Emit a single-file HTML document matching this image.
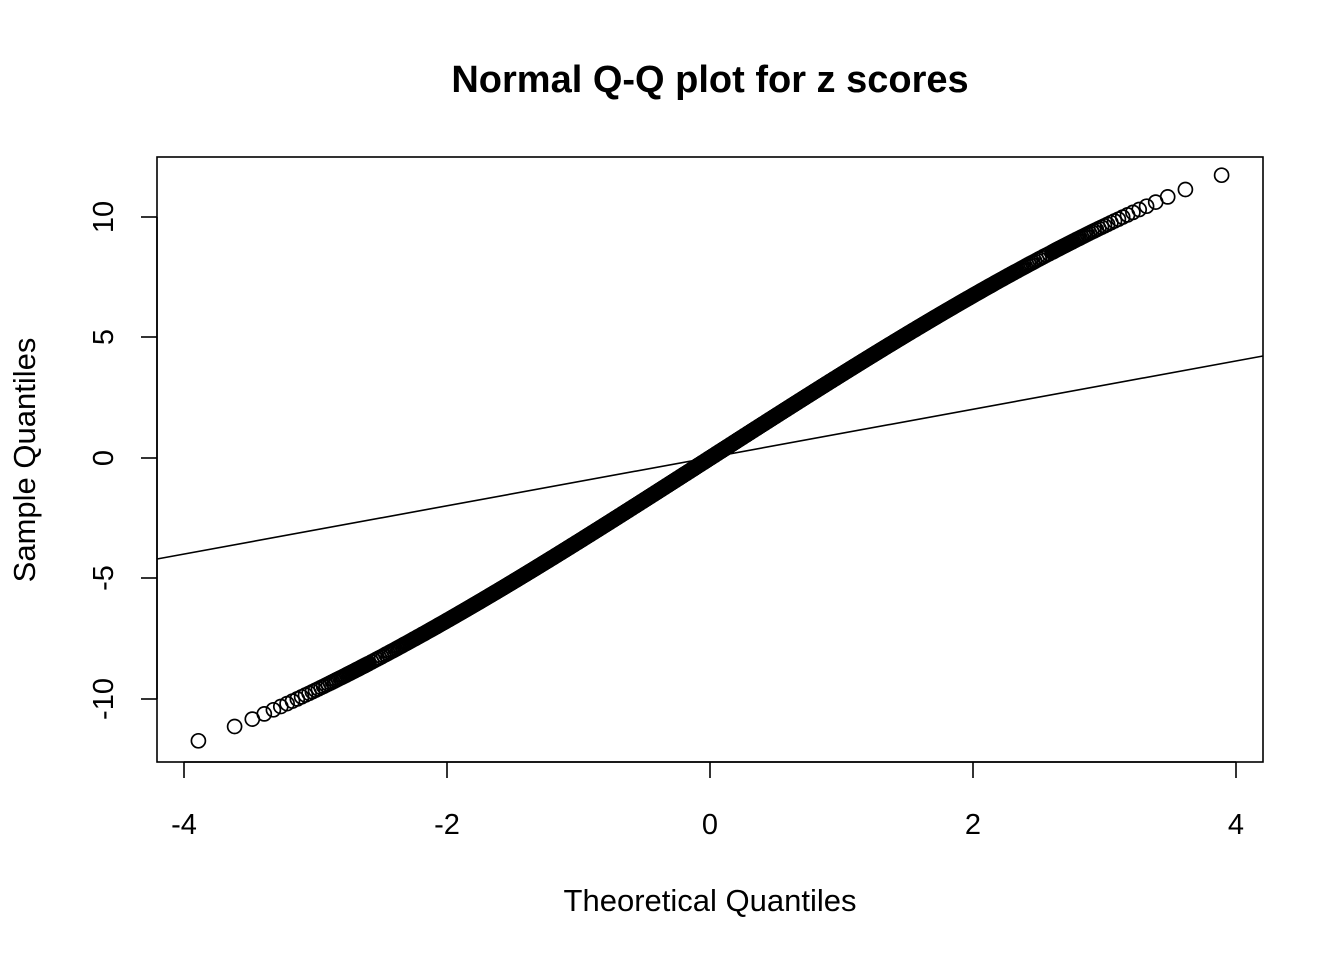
<!DOCTYPE html>
<html><head><meta charset="utf-8"><style>
body{margin:0;background:#fff}
svg text{font-family:"Liberation Sans",Arial,sans-serif;fill:#000}
</style></head><body>
<svg id="s" width="1344" height="960" xmlns="http://www.w3.org/2000/svg">
<rect width="1344" height="960" fill="#fff"/>
<text x="710" y="92" font-size="38" font-weight="bold" text-anchor="middle">Normal Q-Q plot for z scores</text>
<g id="pts" fill="none" stroke="#000" stroke-width="1.7"></g>
<line x1="157" y1="559" x2="1263" y2="356" stroke="#000" stroke-width="1.6"/>
<rect x="157" y="157" width="1106" height="605" fill="none" stroke="#000" stroke-width="1.6"/>
<g stroke="#000" stroke-width="1.6">
<line x1="184" y1="762" x2="1236" y2="762"/>
<line x1="184" y1="762" x2="184" y2="778"/><line x1="447" y1="762" x2="447" y2="778"/>
<line x1="710" y1="762" x2="710" y2="778"/><line x1="973" y1="762" x2="973" y2="778"/>
<line x1="1236" y1="762" x2="1236" y2="778"/>
<line x1="157" y1="217" x2="157" y2="699"/>
<line x1="141" y1="217" x2="157" y2="217"/><line x1="141" y1="337" x2="157" y2="337"/>
<line x1="141" y1="458" x2="157" y2="458"/><line x1="141" y1="578" x2="157" y2="578"/>
<line x1="141" y1="699" x2="157" y2="699"/>
</g>
<g font-size="29" text-anchor="middle">
<text x="184" y="834">-4</text><text x="447" y="834">-2</text><text x="710" y="834">0</text>
<text x="973" y="834">2</text><text x="1236" y="834">4</text>
<text x="710" y="911" font-size="31">Theoretical Quantiles</text>
<text transform="translate(113,217) rotate(-90)">10</text>
<text transform="translate(113,337) rotate(-90)">5</text>
<text transform="translate(113,458) rotate(-90)">0</text>
<text transform="translate(113,578) rotate(-90)">-5</text>
<text transform="translate(113,699) rotate(-90)">-10</text>
<text transform="translate(35,460) rotate(-90)" font-size="31">Sample Quantiles</text>
</g>
</svg>
<script>
function qn(p){var a=[-39.69683028665376,220.9460984245205,-275.9285104469687,138.357751867269,-30.66479806614716,2.506628277459239],b=[-54.47609879822406,161.5858368580409,-155.6989798598866,66.80131188771972,-13.28068155288572],c=[-.007784894002430293,-.3223964580411365,-2.400758277161838,-2.549732539343734,4.374664141464968,2.938163982698783],d=[.007784695709041462,.3224671290700398,2.445134137142996,3.754408661907416],q,r;
if(p<.02425){q=Math.sqrt(-2*Math.log(p));return(((((c[0]*q+c[1])*q+c[2])*q+c[3])*q+c[4])*q+c[5])/((((d[0]*q+d[1])*q+d[2])*q+d[3])*q+1);}
if(p>1-.02425){return -qn(1-p);}
q=p-.5;r=q*q;return(((((a[0]*r+a[1])*r+a[2])*r+a[3])*r+a[4])*r+a[5])*q/(((((b[0]*r+b[1])*r+b[2])*r+b[3])*r+b[4])*r+1);}
var N=10000,h='';
for(var i=1;i<=N;i++){var x=qn((i-.5)/N);if(Math.abs(x)<2.6&&i%3)continue;var y=3.5*x-0.032*x*x*x;
h+='<circle cx="'+(710+131.5*x).toFixed(1)+'" cy="'+(458-24.1*y).toFixed(1)+'" r="7"/>';}
document.getElementById('pts').innerHTML=h;
</script>
</body></html>
